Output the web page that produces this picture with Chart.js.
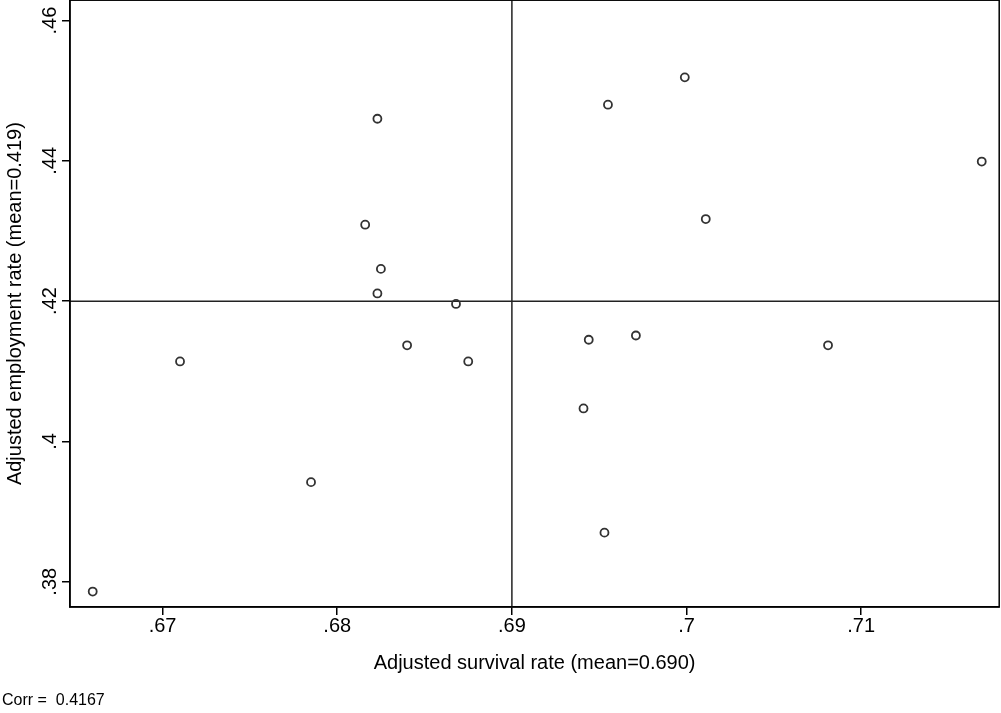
<!DOCTYPE html>
<html>
<head>
<meta charset="UTF-8" />
<style>
    body { margin: 0; background: #fff; overflow: hidden; }
    #c { display: block; margin-top: -10px; }
</style>
</head>
<body>
<canvas id="c" width="1005" height="723"></canvas>
<script src="https://cdn.jsdelivr.net/npm/chart.js"></script>
<script>
    const survival = [0.6660, 0.6710, 0.6785, 0.6823, 0.6816, 0.6825, 0.6823, 0.6840, 0.6868, 0.6875,
                      0.6944, 0.6955, 0.6941, 0.6953, 0.6971, 0.6999, 0.7011, 0.7081, 0.7169];
    const employment = [0.3786, 0.4114, 0.3942, 0.4460, 0.4309, 0.4246, 0.4211, 0.4137, 0.4196, 0.4114,
                        0.4145, 0.4480, 0.4047, 0.3870, 0.4151, 0.4519, 0.4317, 0.4137, 0.4399];
    const xTicks = [0.67, 0.68, 0.69, 0.70, 0.71];
    const yTicks = [0.38, 0.40, 0.42, 0.44, 0.46];
    const meanX = 0.690, meanY = 0.420;
    const xTitle = 'Adjusted survival rate (mean=0.690)';
    const yTitle = 'Adjusted employment rate (mean=0.419)';
    const note = 'Corr =  0.4167';

    const fmt = v => Number(v.toFixed(2)).toString().replace(/^0/, '');
    const fam = "'Liberation Sans', Arial, sans-serif";

    new Chart(document.getElementById('c'), {
        type: 'scatter',
        data: {
            datasets: [
                {
                    data: survival.map((x, i) => ({ x: x, y: employment[i] })),
                    pointRadius: 4,
                    pointBackgroundColor: 'rgba(0,0,0,0)',
                    pointBorderColor: '#333',
                    pointBorderWidth: 1.8
                },
                {
                    type: 'line',
                    data: [{ x: 0.6647, y: meanY }, { x: 0.7179, y: meanY }],
                    borderColor: '#222', borderWidth: 1.5, pointRadius: 0
                },
                {
                    type: 'line',
                    data: [{ x: meanX, y: 0.3764 }, { x: meanX, y: 0.4629 }],
                    borderColor: '#222', borderWidth: 1.5, pointRadius: 0
                }
            ]
        },
        options: {
            responsive: false,
            animation: false,
            layout: { padding: 0 },
            plugins: { legend: { display: false }, tooltip: { enabled: false } },
            scales: {
                x: {
                    min: 0.6647, max: 0.7179,
                    afterBuildTicks: s => { s.ticks = xTicks.map(v => ({ value: v })); },
                    afterFit: s => { s.height = 106; },
                    ticks: { callback: () => '' },
                    grid: { drawOnChartArea: false, tickLength: 8, color: '#000', lineWidth: 1.5 },
                    border: { color: '#000', width: 1.5 }
                },
                y: {
                    min: 0.3764, max: 0.4629,
                    afterBuildTicks: s => { s.ticks = yTicks.map(v => ({ value: v })); },
                    afterFit: s => { s.width = 70; },
                    ticks: { callback: () => '' },
                    grid: { drawOnChartArea: false, tickLength: 8, color: '#000', lineWidth: 1.5 },
                    border: { color: '#000', width: 1.5 }
                }
            }
        },
        plugins: [{
            id: 'labels',
            afterDraw: ch => {
                const a = ch.chartArea, c = ch.ctx, xs = ch.scales.x, ys = ch.scales.y;
                c.save();
                c.strokeStyle = '#000'; c.lineWidth = 1.5;
                c.strokeRect(a.left, a.top, a.right - a.left, a.bottom - a.top);
                c.fillStyle = '#000';
                c.font = '20px ' + fam;
                c.textAlign = 'center'; c.textBaseline = 'middle';
                xTicks.forEach(v => c.fillText(fmt(v), xs.getPixelForValue(v), a.bottom + 19));
                c.fillText(xTitle, (a.left + a.right) / 2, a.bottom + 56);
                yTicks.forEach(v => {
                    c.save();
                    c.translate(a.left - 20, ys.getPixelForValue(v));
                    c.rotate(-Math.PI / 2);
                    c.fillText(fmt(v), 0, 0);
                    c.restore();
                });
                c.save();
                c.translate(15, (a.top + a.bottom) / 2);
                c.rotate(-Math.PI / 2);
                c.fillText(yTitle, 0, 0);
                c.restore();
                c.font = '16px ' + fam;
                c.textAlign = 'left';
                c.fillText(note, 2, a.bottom + 94);
                c.restore();
            }
        }]
    });
</script>
</body>
</html>
